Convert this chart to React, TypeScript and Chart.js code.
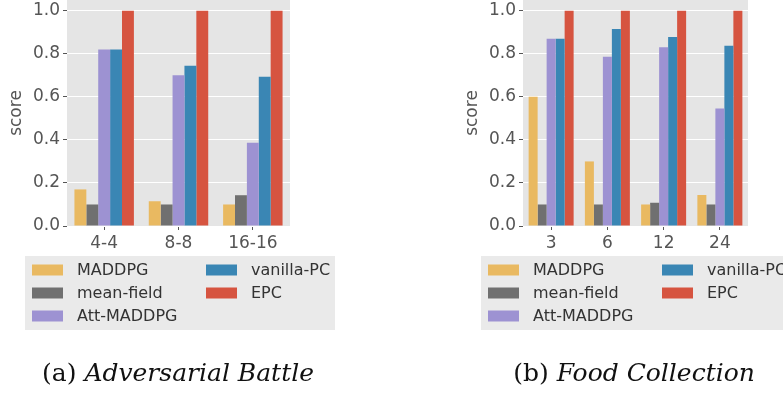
import React, { useEffect, useRef } from "react";
import { Chart, registerables } from "chart.js";

Chart.register(...registerables);

// ---- data ----
const seriesNames = ["MADDPG", "mean-field", "Att-MADDPG", "vanilla-PC", "EPC"];
const seriesColors = ["#E9B961", "#707070", "#9D92D2", "#3A86B4", "#D65440"];

const battleCategories = ["4-4", "8-8", "16-16"];
const battleMADDPG = [0.17, 0.115, 0.1];
const battleMeanField = [0.1, 0.1, 0.143];
const battleAttMADDPG = [0.82, 0.7, 0.387];
const battleVanillaPC = [0.82, 0.745, 0.693];
const battleEPC = [1.0, 1.0, 1.0];

const foodCategories = ["3", "6", "12", "24"];
const foodMADDPG = [0.6, 0.3, 0.1, 0.144];
const foodMeanField = [0.1, 0.1, 0.108, 0.1];
const foodAttMADDPG = [0.87, 0.786, 0.83, 0.546];
const foodVanillaPC = [0.87, 0.915, 0.878, 0.837];
const foodEPC = [1.0, 1.0, 1.0, 1.0];

const yMin = 0;
const yMax = 1.05;
const yStep = 0.2;
const yTitle = "score";

const captionA = ["(a)", "Adversarial Battle"];
const captionB = ["(b)", "Food Collection"];

// ---- styles ----
const SANS = "'DejaVu Sans', 'Noto Sans', sans-serif";
const TICK_COLOR = "#555555";
const AXES_BG = "#E5E5E5";

const bgPlugin = {
  id: "axesBg",
  beforeDraw(chart: any) {
    const { ctx, chartArea } = chart;
    ctx.save();
    ctx.fillStyle = AXES_BG;
    ctx.fillRect(chartArea.left, chartArea.top, chartArea.right - chartArea.left, chartArea.bottom - chartArea.top);
    ctx.restore();
  },
};

const boxLegendPlugin = {
  id: "boxLegend",
  afterDraw(chart: any, _args: any, opts: any) {
    const { ctx } = chart;
    const ca = chart.chartArea;
    const x0 = ca.left + opts.dx;
    const y0 = ca.bottom + opts.dy;
    ctx.save();
    ctx.fillStyle = "#EAEAEA";
    ctx.fillRect(x0, y0, opts.w, opts.h);
    ctx.font = "16px " + SANS;
    ctx.textBaseline = "middle";
    ctx.textAlign = "left";
    const rowY = [14, 37, 60];
    const colX = [7, 181];
    chart.data.datasets.forEach((ds: any, i: number) => {
      const col = i < 3 ? 0 : 1;
      const row = i < 3 ? i : i - 3;
      const px = x0 + colX[col];
      const py = y0 + rowY[row];
      ctx.fillStyle = ds.backgroundColor;
      ctx.fillRect(px, py - 5.5, 31, 11);
      ctx.fillStyle = "#333333";
      ctx.fillText(ds.label, px + 45, py + 1);
    });
    ctx.restore();
  },
};

function buildConfig(categories: string[], values: number[][], padLeft: number, padRight: number) {
  return {
    type: "bar" as const,
    data: {
      labels: categories,
      datasets: values.map((v, i) => ({
        label: seriesNames[i],
        data: v,
        backgroundColor: seriesColors[i],
        borderWidth: 0,
        categoryPercentage: 0.8,
        barPercentage: 1.0,
      })),
    },
    options: {
      animation: false as const,
      responsive: false,
      maintainAspectRatio: false,
      layout: { padding: { left: padLeft, right: padRight, top: 0, bottom: 394 - 226 - 30 } },
      plugins: {
        legend: { display: false },
        tooltip: { enabled: false },
        boxLegend: { dx: -42, dy: 30, w: 310, h: 74 },
      },
      scales: {
        x: {
          grid: {
            offset: false,
            drawOnChartArea: false,
            color: "rgba(0,0,0,0)",
            drawTicks: true,
            tickLength: 4,
            tickColor: TICK_COLOR,
          },
          border: { display: false },
          ticks: { color: TICK_COLOR, font: { family: SANS, size: 17 }, padding: 3 },
          afterFit: (s: any) => {
            s.height = 30;
            s.paddingLeft = 0;
            s.paddingRight = 0;
          },
        },
        y: {
          min: yMin,
          max: yMax,
          grid: { color: "#FFFFFF", lineWidth: 1, drawTicks: true, tickLength: 4, tickColor: TICK_COLOR },
          border: { display: false },
          ticks: {
            stepSize: yStep,
            includeBounds: false,
            color: TICK_COLOR,
            font: { family: SANS, size: 17 },
            padding: 3,
            callback: (v: any) => Number(v).toFixed(1),
          },
          title: {
            display: true,
            text: yTitle,
            color: TICK_COLOR,
            font: { family: SANS, size: 17 },
            padding: { top: 6, bottom: 0 },
          },
          afterFit: (s: any) => {
            s.width = 67;
            s.paddingTop = 0;
            s.paddingBottom = 0;
          },
        },
      },
    },
    plugins: [bgPlugin, boxLegendPlugin],
  };
}

function BarPanel(props: { categories: string[]; values: number[][]; width: number; left: number; padLeft: number; padRight: number }) {
  const ref = useRef<HTMLCanvasElement>(null);
  useEffect(() => {
    if (!ref.current) return;
    const chart = new Chart(ref.current, buildConfig(props.categories, props.values, props.padLeft, props.padRight) as any);
    return () => chart.destroy();
  }, []);
  return (
    <canvas
      ref={ref}
      width={props.width}
      height={394}
      style={{ position: "absolute", left: props.left, top: 0, width: props.width, height: 394 }}
    />
  );
}

const captionStyle: React.CSSProperties = {
  position: "absolute",
  top: 357,
  fontFamily: "'DejaVu Serif', 'Liberation Serif', serif",
  fontSize: 25,
  color: "#111",
  whiteSpace: "nowrap",
  transform: "translateX(-50%)",
  lineHeight: "32px",
};

export default function App() {
  return (
    <div style={{ position: "fixed", left: 0, top: 0, width: 783, height: 394, background: "#fff", overflow: "hidden" }}>
      <BarPanel
        categories={battleCategories}
        values={[battleMADDPG, battleMeanField, battleAttMADDPG, battleVanillaPC, battleEPC]}
        width={400}
        left={0}
        padLeft={0}
        padRight={110}
      />
      <BarPanel
        categories={foodCategories}
        values={[foodMADDPG, foodMeanField, foodAttMADDPG, foodVanillaPC, foodEPC]}
        width={383}
        left={400}
        padLeft={56}
        padRight={35}
      />
      <div style={{ ...captionStyle, left: 178 }}>
        {captionA[0]} <i>{captionA[1]}</i>
      </div>
      <div style={{ ...captionStyle, left: 634 }}>
        {captionB[0]} <i>{captionB[1]}</i>
      </div>
    </div>
  );
}
